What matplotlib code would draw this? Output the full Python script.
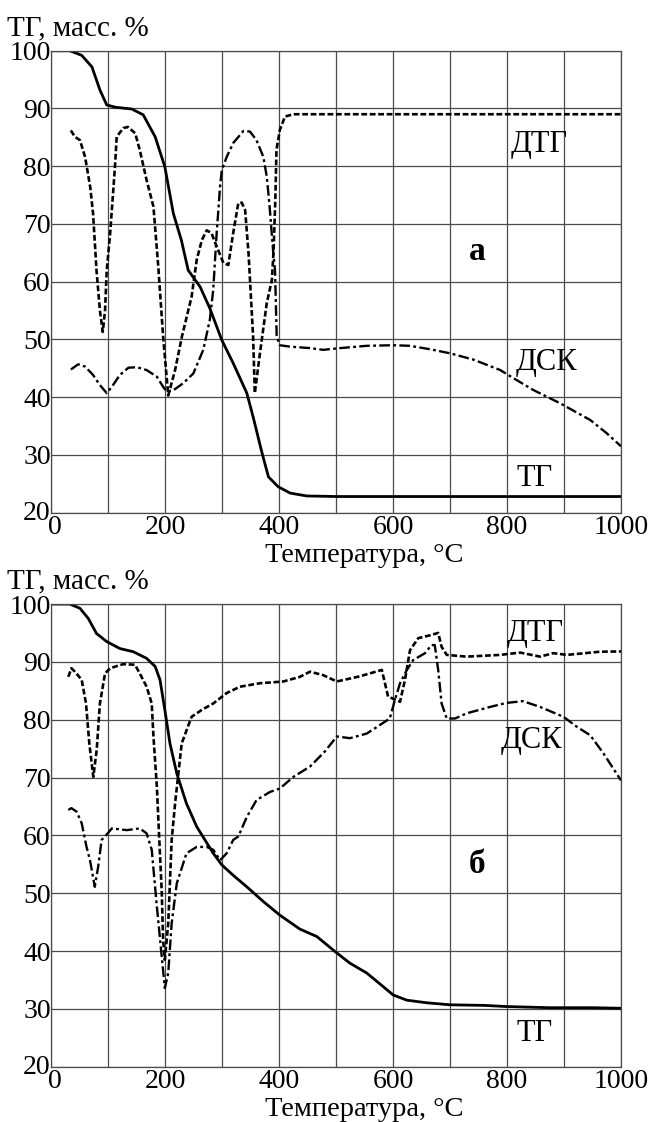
import matplotlib
matplotlib.use("Agg")
import matplotlib.pyplot as plt
import matplotlib.transforms as mtransforms

plt.rcParams['font.family'] = ['Liberation Serif', 'DejaVu Serif']

# ---------------- data: panel a ----------------
a_tg_x = [0, 32, 53, 71, 85, 97, 113, 141, 161, 182, 199, 214, 228, 240, 261, 278, 299, 319,
          343, 354, 369, 381, 398, 419, 448, 500, 600, 700, 800, 900, 1000]
a_tg_y = [100, 100, 99.2, 97.2, 93.2, 90.6, 90.2, 89.9, 88.9, 85.1, 79.9, 71.8, 67.2, 62, 59.1,
          55.4, 49.9, 45.9, 40.7, 36.6, 30.6, 26.2, 24.5, 23.4, 22.9, 22.8, 22.8, 22.8, 22.8, 22.8, 22.8]

a_dtg_x = [34, 41, 50, 59, 68, 73, 79, 85, 90, 94, 97, 103, 111.5, 114.5, 126, 134, 147, 155, 167,
           179, 187.5, 196, 205, 217, 229, 246, 255, 264, 272.5, 281, 290, 302, 310.5, 319, 328,
           334, 340, 346, 354, 357, 366, 378, 387, 390, 393, 395, 401, 410, 425, 500, 1000]
a_dtg_y = [86.2, 85.1, 84.5, 81.6, 76.4, 71.8, 62, 55, 51.3, 55, 62, 68.4, 80, 85.1, 86.6, 86.8,
           85.7, 82.8, 77.6, 73, 62.6, 50.5, 40.3, 44.7, 50.5, 57.4, 63.8, 67.2, 68.9, 68.4, 66.1,
           63.2, 62.9, 68.4, 73.6, 73.7, 72.4, 64.9, 50.5, 40.7, 47.6, 56.3, 60.3, 65.5, 74.1, 82.8,
           86.3, 88.6, 89.0, 89.0, 89.0]

a_dsc_x = [34, 47, 59, 73, 85, 97, 106, 120, 135, 150, 167, 185, 196, 202, 214, 231, 249, 266.5,
           278, 284, 290, 296, 299, 307.6, 319, 337, 348.5, 360, 372, 378, 383, 389.5, 392.5, 395.4,
           401, 419, 454, 477, 506.6, 553.5, 600, 629, 665, 700, 741, 788, 811, 846, 893, 946, 975, 1000]
a_dsc_y = [44.8, 45.7, 45.3, 43.85, 42.1, 40.7, 41.8, 43.85, 45.1, 45.2, 44.7, 43.55, 41.8, 41.0,
           41.2, 42.4, 44.1, 48.2, 53.4, 58.6, 68.4, 76.5, 79.3, 81.6, 84.0, 86.1, 86.0, 84.5, 81.6,
           78.2, 73.0, 64.9, 62.0, 50.5, 49.0, 48.75, 48.5, 48.2, 48.5, 48.9, 49.0, 48.9, 48.3, 47.6,
           46.5, 44.7, 43.3, 41.25, 38.95, 36.05, 33.75, 31.5]

# ---------------- data: panel b ----------------
b_tg_x = [0, 32, 50, 64.6, 79, 97, 120, 143.6, 167, 182, 190.5, 199, 208, 220, 237, 255, 269.5,
          284, 299, 319, 343, 372, 401, 436, 466, 498, 524, 553.5, 583, 600, 624, 659, 700, 760,
          799, 875, 950, 1000]
b_tg_y = [100, 100, 99.25, 97.5, 94.9, 93.5, 92.3, 91.75, 90.6, 89.2, 86.9, 81.7, 75.9, 70.7,
          65.5, 61.5, 59.2, 56.9, 54.9, 53.1, 51.1, 48.55, 46.2, 43.8, 42.5, 39.9, 37.9, 36.2,
          33.8, 32.4, 31.5, 31.05, 30.7, 30.6, 30.4, 30.2, 30.2, 30.1]

b_dtg_x = [29.5, 35, 41, 53, 60.6, 66.4, 73.4, 79.4, 85, 94, 103, 126, 146.6, 155, 167, 176, 179,
           185, 189, 193.5, 196, 199, 205, 211, 217, 228.6, 246, 264, 284, 307.6, 331, 366, 407,
           436, 454, 477, 501, 541.5, 580, 591, 612, 620.7, 629.5, 644, 665, 679, 685, 694, 729,
           788, 823, 858, 881, 905, 963, 1000]
b_dtg_y = [87.4, 88.9, 88.3, 86.9, 82.8, 75.9, 70.1, 74.8, 82.8, 88.0, 88.9, 89.6, 89.5, 88.0,
           85.7, 82.8, 77.1, 68.4, 59.8, 50.5, 41.9, 38.5, 44.8, 59.2, 65.5, 75.9, 80.5, 81.7,
           82.8, 84.6, 85.7, 86.3, 86.6, 87.4, 88.3, 87.7, 86.6, 87.5, 88.6, 84.0, 83.1, 86.9,
           92.0, 94.1, 94.6, 95.0, 92.6, 91.2, 90.9, 91.2, 91.6, 90.9, 91.5, 91.2, 91.75, 91.8]

b_dsc_x = [29.5, 35, 44, 53, 61.5, 67.6, 76, 82, 88, 94, 106, 132, 155, 167, 176, 185, 193.5, 199,
           205, 211, 220, 237, 255, 272.5, 284, 296, 307.6, 319, 328, 343, 360, 383.6, 401, 424.6,
           454, 480, 501, 524, 553.5, 577, 594, 603, 612, 624, 635, 656, 667, 673, 679, 685, 694,
           708.5, 729, 770, 799, 828, 858, 899, 922, 946, 969, 1000]
b_dsc_y = [64.4, 64.7, 64.1, 62.1, 58.0, 55.7, 51.1, 54.6, 59.2, 59.8, 61.2, 60.9, 61.2, 60.35,
           57.5, 47.7, 39.1, 33.6, 36.2, 44.8, 51.7, 56.9, 58.0, 58.0, 57.5, 55.7, 56.9, 59.2,
           59.8, 63.2, 66.1, 67.5, 68.1, 70.1, 71.9, 74.5, 77.1, 76.8, 77.6, 79.1, 80.2, 83.4,
           86.3, 88.6, 90.3, 91.5, 92.9, 92.9, 88.6, 82.8, 80.2, 80.2, 81.1, 82.2, 82.9, 83.2,
           82.2, 80.5, 78.8, 77.3, 74.2, 69.5]

x_ticks = [0, 200, 400, 600, 800, 1000]
y_ticks = [20, 30, 40, 50, 60, 70, 80, 90, 100]
y_label = "ТГ, масс. %"
x_label = "Температура, °С"

panels = [
    dict(tg=(a_tg_x, a_tg_y), dtg=(a_dtg_x, a_dtg_y), dsc=(a_dsc_x, a_dsc_y),
         letter="а", letter_pos=(733, 63.8),
         lab_dtg=(806, 82.5), lab_dsc=(815, 44.7), lab_tg=(817, 24.6)),
    dict(tg=(b_tg_x, b_tg_y), dtg=(b_dtg_x, b_dtg_y), dsc=(b_dsc_x, b_dsc_y),
         letter="б", letter_pos=(733, 53.5),
         lab_dtg=(800, 93.6), lab_dsc=(789, 75.1), lab_tg=(817, 24.4)),
]

W, H = 649, 1122
fig = plt.figure(figsize=(W / 100, H / 100), dpi=100)

ax_left, ax_right = 51.5, 621
rects = [(50.7, 512.7), (604, 1066.7)]
grid_color = '#4a4a4a'

for p, (top, bot) in zip(panels, rects):
    ax = fig.add_axes([ax_left / W, 1 - bot / H, (ax_right - ax_left) / W, (bot - top) / H])
    ax.set_xlim(0, 1000)
    ax.set_ylim(20, 100)
    ax.set_xticks(x_ticks)
    ax.set_xticks(range(100, 1000, 200), minor=True)
    ax.set_yticks(y_ticks)
    ax.grid(True, which='both', color=grid_color, linewidth=0.9)
    ax.set_axisbelow(True)
    for s in ax.spines.values():
        s.set_color(grid_color)
        s.set_linewidth(0.9)
    ax.tick_params(which='both', length=0, labelsize=20, pad=0.5)
    ax.tick_params(axis='x', pad=2)
    # nudge the "0" label slightly right, as in the reference
    first = ax.get_xticklabels()[0]
    first.set_transform(first.get_transform() +
                        mtransforms.ScaledTranslation(3 / 100, 0, fig.dpi_scale_trans))
    ax.get_yticklabels()[0].set_transform(
        ax.get_yticklabels()[0].get_transform() +
        mtransforms.ScaledTranslation(0, 2 / 100, fig.dpi_scale_trans))

    ax.plot(*p['tg'], color='black', linewidth=2.0, linestyle='-',
            solid_capstyle='round', solid_joinstyle='round')
    ax.plot(*p['dtg'], color='black', linewidth=1.9, linestyle=(0, (2.2, 1.0)),
            dash_joinstyle='round')
    ax.plot(*p['dsc'], color='black', linewidth=1.7, linestyle=(0, (4.5, 1.4, 1.2, 1.4)),
            dash_joinstyle='round')

    ax.text(*p['lab_dtg'], "ДТГ", fontsize=22, ha='left', va='baseline')
    ax.text(*p['lab_dsc'], "ДСК", fontsize=22, ha='left', va='baseline')
    ax.text(*p['lab_tg'], "ТГ", fontsize=22, ha='left', va='baseline')
    ax.text(*p['letter_pos'], p['letter'], fontsize=24, fontweight='bold', ha='left', va='baseline')

    fig.text(7 / W, 1 - (top - 15.7) / H, y_label, fontsize=21, ha='left', va='baseline')
    fig.text(364 / W, 1 - (bot + 49) / H, x_label, fontsize=20.5, ha='center', va='baseline')

fig.savefig("out.png", dpi=100)
